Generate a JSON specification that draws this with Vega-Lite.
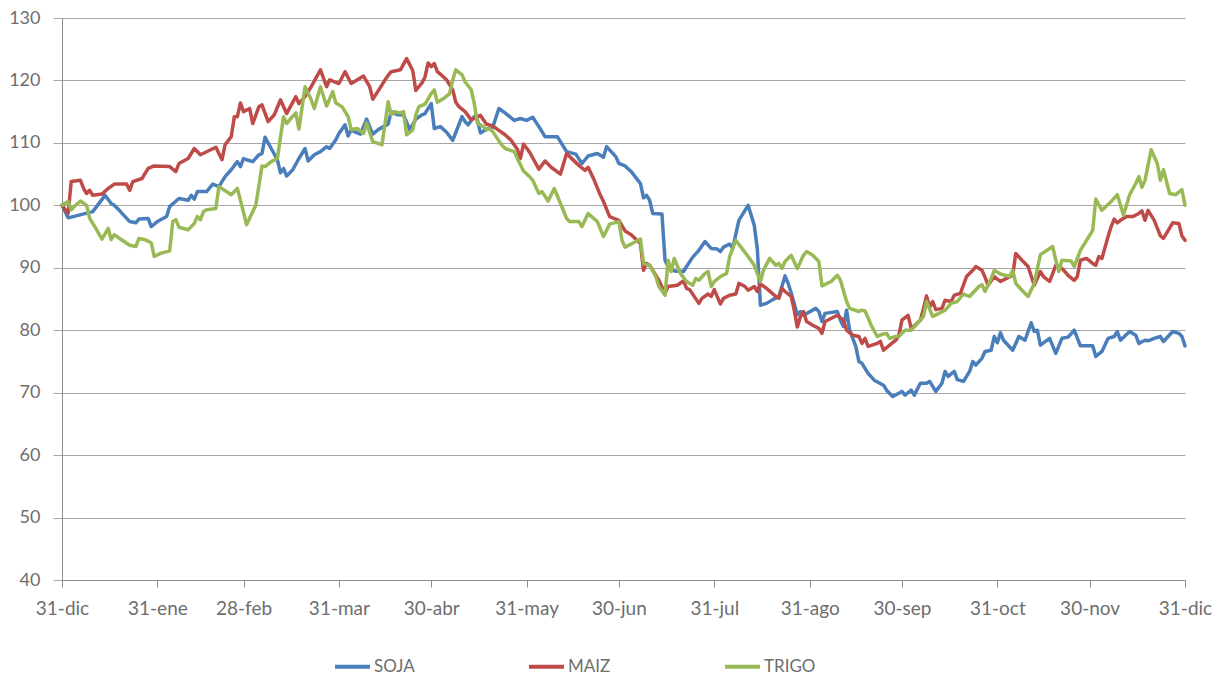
{
"$schema": "https://vega.github.io/schema/vega-lite/v6.json",
"width": 1123, "height": 562,
"autosize": {"type": "none"},
"padding": {"left": 62, "top": 18, "right": 30, "bottom": 95},
"background": "white",
"config": {"view": {"stroke": null}, "font": "Lato"},
"data": {"values": [
{"fecha":"2013-12-31","serie":"SOJA","valor":100},
{"fecha":"2014-01-02","serie":"SOJA","valor":98.0},
{"fecha":"2014-01-10","serie":"SOJA","valor":99.0},
{"fecha":"2014-01-14","serie":"SOJA","valor":101.6},
{"fecha":"2014-01-16","serie":"SOJA","valor":100.3},
{"fecha":"2014-01-17","serie":"SOJA","valor":100.0},
{"fecha":"2014-01-19","serie":"SOJA","valor":99.0},
{"fecha":"2014-01-22","serie":"SOJA","valor":97.4},
{"fecha":"2014-01-24","serie":"SOJA","valor":97.2},
{"fecha":"2014-01-25","serie":"SOJA","valor":97.8},
{"fecha":"2014-01-28","serie":"SOJA","valor":97.9},
{"fecha":"2014-01-29","serie":"SOJA","valor":96.6},
{"fecha":"2014-01-31","serie":"SOJA","valor":97.4},
{"fecha":"2014-02-03","serie":"SOJA","valor":98.2},
{"fecha":"2014-02-04","serie":"SOJA","valor":99.8},
{"fecha":"2014-02-07","serie":"SOJA","valor":101.1},
{"fecha":"2014-02-10","serie":"SOJA","valor":100.8},
{"fecha":"2014-02-11","serie":"SOJA","valor":101.6},
{"fecha":"2014-02-12","serie":"SOJA","valor":101.0},
{"fecha":"2014-02-13","serie":"SOJA","valor":102.2},
{"fecha":"2014-02-16","serie":"SOJA","valor":102.2},
{"fecha":"2014-02-18","serie":"SOJA","valor":103.4},
{"fecha":"2014-02-20","serie":"SOJA","valor":103.0},
{"fecha":"2014-02-22","serie":"SOJA","valor":104.6},
{"fecha":"2014-02-24","serie":"SOJA","valor":105.7},
{"fecha":"2014-02-26","serie":"SOJA","valor":107.0},
{"fecha":"2014-02-27","serie":"SOJA","valor":106.2},
{"fecha":"2014-02-28","serie":"SOJA","valor":107.5},
{"fecha":"2014-03-01","serie":"SOJA","valor":107.3},
{"fecha":"2014-03-03","serie":"SOJA","valor":107.0},
{"fecha":"2014-03-05","serie":"SOJA","valor":108.1},
{"fecha":"2014-03-06","serie":"SOJA","valor":108.3},
{"fecha":"2014-03-07","serie":"SOJA","valor":110.9},
{"fecha":"2014-03-09","serie":"SOJA","valor":109.1},
{"fecha":"2014-03-11","serie":"SOJA","valor":107.3},
{"fecha":"2014-03-12","serie":"SOJA","valor":105.2},
{"fecha":"2014-03-13","serie":"SOJA","valor":105.9},
{"fecha":"2014-03-14","serie":"SOJA","valor":104.7},
{"fecha":"2014-03-16","serie":"SOJA","valor":105.7},
{"fecha":"2014-03-18","serie":"SOJA","valor":107.5},
{"fecha":"2014-03-20","serie":"SOJA","valor":109.1},
{"fecha":"2014-03-21","serie":"SOJA","valor":107.1},
{"fecha":"2014-03-23","serie":"SOJA","valor":108.1},
{"fecha":"2014-03-25","serie":"SOJA","valor":108.6},
{"fecha":"2014-03-27","serie":"SOJA","valor":109.4},
{"fecha":"2014-03-28","serie":"SOJA","valor":109.1},
{"fecha":"2014-03-30","serie":"SOJA","valor":110.5},
{"fecha":"2014-03-31","serie":"SOJA","valor":111.5},
{"fecha":"2014-04-02","serie":"SOJA","valor":112.9},
{"fecha":"2014-04-03","serie":"SOJA","valor":111.1},
{"fecha":"2014-04-04","serie":"SOJA","valor":112.1},
{"fecha":"2014-04-05","serie":"SOJA","valor":111.8},
{"fecha":"2014-04-07","serie":"SOJA","valor":111.4},
{"fecha":"2014-04-09","serie":"SOJA","valor":113.8},
{"fecha":"2014-04-11","serie":"SOJA","valor":111.4},
{"fecha":"2014-04-13","serie":"SOJA","valor":112.2},
{"fecha":"2014-04-16","serie":"SOJA","valor":113.0},
{"fecha":"2014-04-17","serie":"SOJA","valor":115.0},
{"fecha":"2014-04-19","serie":"SOJA","valor":114.5},
{"fecha":"2014-04-21","serie":"SOJA","valor":114.5},
{"fecha":"2014-04-23","serie":"SOJA","valor":112.1},
{"fecha":"2014-04-25","serie":"SOJA","valor":113.8},
{"fecha":"2014-04-27","serie":"SOJA","valor":114.5},
{"fecha":"2014-04-28","serie":"SOJA","valor":114.7},
{"fecha":"2014-04-30","serie":"SOJA","valor":116.3},
{"fecha":"2014-05-01","serie":"SOJA","valor":112.3},
{"fecha":"2014-05-03","serie":"SOJA","valor":112.6},
{"fecha":"2014-05-05","serie":"SOJA","valor":111.7},
{"fecha":"2014-05-07","serie":"SOJA","valor":110.4},
{"fecha":"2014-05-10","serie":"SOJA","valor":114.2},
{"fecha":"2014-05-11","serie":"SOJA","valor":113.4},
{"fecha":"2014-05-12","serie":"SOJA","valor":112.9},
{"fecha":"2014-05-14","serie":"SOJA","valor":114.2},
{"fecha":"2014-05-15","serie":"SOJA","valor":113.7},
{"fecha":"2014-05-16","serie":"SOJA","valor":111.6},
{"fecha":"2014-05-18","serie":"SOJA","valor":112.2},
{"fecha":"2014-05-20","serie":"SOJA","valor":112.5},
{"fecha":"2014-05-22","serie":"SOJA","valor":115.5},
{"fecha":"2014-05-24","serie":"SOJA","valor":114.8},
{"fecha":"2014-05-27","serie":"SOJA","valor":113.6},
{"fecha":"2014-05-29","serie":"SOJA","valor":113.9},
{"fecha":"2014-05-31","serie":"SOJA","valor":113.6},
{"fecha":"2014-06-02","serie":"SOJA","valor":114.1},
{"fecha":"2014-06-04","serie":"SOJA","valor":112.6},
{"fecha":"2014-06-06","serie":"SOJA","valor":111.0},
{"fecha":"2014-06-10","serie":"SOJA","valor":111.0},
{"fecha":"2014-06-13","serie":"SOJA","valor":108.6},
{"fecha":"2014-06-16","serie":"SOJA","valor":108.2},
{"fecha":"2014-06-18","serie":"SOJA","valor":106.7},
{"fecha":"2014-06-20","serie":"SOJA","valor":107.9},
{"fecha":"2014-06-23","serie":"SOJA","valor":108.3},
{"fecha":"2014-06-25","serie":"SOJA","valor":107.7},
{"fecha":"2014-06-26","serie":"SOJA","valor":109.4},
{"fecha":"2014-06-29","serie":"SOJA","valor":107.8},
{"fecha":"2014-06-30","serie":"SOJA","valor":106.7},
{"fecha":"2014-07-02","serie":"SOJA","valor":106.3},
{"fecha":"2014-07-04","serie":"SOJA","valor":105.4},
{"fecha":"2014-07-07","serie":"SOJA","valor":103.5},
{"fecha":"2014-07-08","serie":"SOJA","valor":101.2},
{"fecha":"2014-07-09","serie":"SOJA","valor":101.6},
{"fecha":"2014-07-10","serie":"SOJA","valor":100.8},
{"fecha":"2014-07-11","serie":"SOJA","valor":98.7},
{"fecha":"2014-07-14","serie":"SOJA","valor":98.6},
{"fecha":"2014-07-15","serie":"SOJA","valor":91.2},
{"fecha":"2014-07-16","serie":"SOJA","valor":90.2},
{"fecha":"2014-07-18","serie":"SOJA","valor":89.5},
{"fecha":"2014-07-21","serie":"SOJA","valor":89.4},
{"fecha":"2014-07-22","serie":"SOJA","valor":90.2},
{"fecha":"2014-07-24","serie":"SOJA","valor":91.7},
{"fecha":"2014-07-26","serie":"SOJA","valor":92.8},
{"fecha":"2014-07-28","serie":"SOJA","valor":94.2},
{"fecha":"2014-07-30","serie":"SOJA","valor":93.1},
{"fecha":"2014-08-01","serie":"SOJA","valor":93.0},
{"fecha":"2014-08-02","serie":"SOJA","valor":92.6},
{"fecha":"2014-08-03","serie":"SOJA","valor":93.3},
{"fecha":"2014-08-05","serie":"SOJA","valor":93.8},
{"fecha":"2014-08-06","serie":"SOJA","valor":93.1},
{"fecha":"2014-08-08","serie":"SOJA","valor":97.6},
{"fecha":"2014-08-09","serie":"SOJA","valor":98.4},
{"fecha":"2014-08-11","serie":"SOJA","valor":100.0},
{"fecha":"2014-08-13","serie":"SOJA","valor":96.8},
{"fecha":"2014-08-14","serie":"SOJA","valor":93.0},
{"fecha":"2014-08-15","serie":"SOJA","valor":84.0},
{"fecha":"2014-08-17","serie":"SOJA","valor":84.3},
{"fecha":"2014-08-19","serie":"SOJA","valor":84.9},
{"fecha":"2014-08-21","serie":"SOJA","valor":85.4},
{"fecha":"2014-08-23","serie":"SOJA","valor":88.7},
{"fecha":"2014-08-24","serie":"SOJA","valor":87.5},
{"fecha":"2014-08-25","serie":"SOJA","valor":86.0},
{"fecha":"2014-08-27","serie":"SOJA","valor":82.5},
{"fecha":"2014-08-28","serie":"SOJA","valor":83.0},
{"fecha":"2014-08-29","serie":"SOJA","valor":82.4},
{"fecha":"2014-09-02","serie":"SOJA","valor":83.5},
{"fecha":"2014-09-03","serie":"SOJA","valor":83.0},
{"fecha":"2014-09-04","serie":"SOJA","valor":81.4},
{"fecha":"2014-09-05","serie":"SOJA","valor":82.7},
{"fecha":"2014-09-09","serie":"SOJA","valor":83.0},
{"fecha":"2014-09-10","serie":"SOJA","valor":81.6},
{"fecha":"2014-09-11","serie":"SOJA","valor":80.6},
{"fecha":"2014-09-12","serie":"SOJA","valor":83.2},
{"fecha":"2014-09-13","serie":"SOJA","valor":80.0},
{"fecha":"2014-09-15","serie":"SOJA","valor":77.4},
{"fecha":"2014-09-16","serie":"SOJA","valor":75.0},
{"fecha":"2014-09-17","serie":"SOJA","valor":74.7},
{"fecha":"2014-09-19","serie":"SOJA","valor":73.1},
{"fecha":"2014-09-21","serie":"SOJA","valor":72.0},
{"fecha":"2014-09-24","serie":"SOJA","valor":71.2},
{"fecha":"2014-09-25","serie":"SOJA","valor":70.4},
{"fecha":"2014-09-27","serie":"SOJA","valor":69.4},
{"fecha":"2014-09-29","serie":"SOJA","valor":69.9},
{"fecha":"2014-09-30","serie":"SOJA","valor":70.2},
{"fecha":"2014-10-01","serie":"SOJA","valor":69.6},
{"fecha":"2014-10-03","serie":"SOJA","valor":70.4},
{"fecha":"2014-10-04","serie":"SOJA","valor":69.6},
{"fecha":"2014-10-06","serie":"SOJA","valor":71.5},
{"fecha":"2014-10-08","serie":"SOJA","valor":71.5},
{"fecha":"2014-10-09","serie":"SOJA","valor":71.8},
{"fecha":"2014-10-11","serie":"SOJA","valor":70.2},
{"fecha":"2014-10-13","serie":"SOJA","valor":71.5},
{"fecha":"2014-10-14","serie":"SOJA","valor":73.4},
{"fecha":"2014-10-15","serie":"SOJA","valor":72.6},
{"fecha":"2014-10-17","serie":"SOJA","valor":73.4},
{"fecha":"2014-10-18","serie":"SOJA","valor":72.1},
{"fecha":"2014-10-20","serie":"SOJA","valor":71.8},
{"fecha":"2014-10-22","serie":"SOJA","valor":73.4},
{"fecha":"2014-10-23","serie":"SOJA","valor":75.0},
{"fecha":"2014-10-24","serie":"SOJA","valor":74.4},
{"fecha":"2014-10-26","serie":"SOJA","valor":75.5},
{"fecha":"2014-10-27","serie":"SOJA","valor":76.6},
{"fecha":"2014-10-29","serie":"SOJA","valor":76.8},
{"fecha":"2014-10-30","serie":"SOJA","valor":79.0},
{"fecha":"2014-10-31","serie":"SOJA","valor":78.0},
{"fecha":"2014-11-01","serie":"SOJA","valor":79.6},
{"fecha":"2014-11-02","serie":"SOJA","valor":78.4},
{"fecha":"2014-11-05","serie":"SOJA","valor":76.8},
{"fecha":"2014-11-07","serie":"SOJA","valor":79.0},
{"fecha":"2014-11-09","serie":"SOJA","valor":78.4},
{"fecha":"2014-11-11","serie":"SOJA","valor":81.2},
{"fecha":"2014-11-12","serie":"SOJA","valor":79.8},
{"fecha":"2014-11-13","serie":"SOJA","valor":80.0},
{"fecha":"2014-11-14","serie":"SOJA","valor":77.6},
{"fecha":"2014-11-17","serie":"SOJA","valor":78.7},
{"fecha":"2014-11-19","serie":"SOJA","valor":76.3},
{"fecha":"2014-11-21","serie":"SOJA","valor":78.7},
{"fecha":"2014-11-23","serie":"SOJA","valor":78.9},
{"fecha":"2014-11-25","serie":"SOJA","valor":80.0},
{"fecha":"2014-11-27","serie":"SOJA","valor":77.5},
{"fecha":"2014-12-01","serie":"SOJA","valor":77.5},
{"fecha":"2014-12-02","serie":"SOJA","valor":75.8},
{"fecha":"2014-12-04","serie":"SOJA","valor":76.6},
{"fecha":"2014-12-06","serie":"SOJA","valor":78.7},
{"fecha":"2014-12-08","serie":"SOJA","valor":79.0},
{"fecha":"2014-12-09","serie":"SOJA","valor":79.8},
{"fecha":"2014-12-10","serie":"SOJA","valor":78.4},
{"fecha":"2014-12-13","serie":"SOJA","valor":79.8},
{"fecha":"2014-12-15","serie":"SOJA","valor":79.2},
{"fecha":"2014-12-16","serie":"SOJA","valor":77.9},
{"fecha":"2014-12-18","serie":"SOJA","valor":78.4},
{"fecha":"2014-12-19","serie":"SOJA","valor":78.3},
{"fecha":"2014-12-21","serie":"SOJA","valor":78.7},
{"fecha":"2014-12-23","serie":"SOJA","valor":79.0},
{"fecha":"2014-12-24","serie":"SOJA","valor":78.2},
{"fecha":"2014-12-27","serie":"SOJA","valor":79.8},
{"fecha":"2014-12-29","serie":"SOJA","valor":79.5},
{"fecha":"2014-12-30","serie":"SOJA","valor":79.0},
{"fecha":"2014-12-31","serie":"SOJA","valor":77.5},
{"fecha":"2013-12-31","serie":"MAIZ","valor":100},
{"fecha":"2014-01-02","serie":"MAIZ","valor":98.7},
{"fecha":"2014-01-03","serie":"MAIZ","valor":103.8},
{"fecha":"2014-01-06","serie":"MAIZ","valor":104.0},
{"fecha":"2014-01-07","serie":"MAIZ","valor":102.7},
{"fecha":"2014-01-08","serie":"MAIZ","valor":101.9},
{"fecha":"2014-01-09","serie":"MAIZ","valor":102.4},
{"fecha":"2014-01-10","serie":"MAIZ","valor":101.6},
{"fecha":"2014-01-13","serie":"MAIZ","valor":101.8},
{"fecha":"2014-01-15","serie":"MAIZ","valor":102.7},
{"fecha":"2014-01-17","serie":"MAIZ","valor":103.4},
{"fecha":"2014-01-21","serie":"MAIZ","valor":103.4},
{"fecha":"2014-01-22","serie":"MAIZ","valor":102.4},
{"fecha":"2014-01-23","serie":"MAIZ","valor":103.8},
{"fecha":"2014-01-26","serie":"MAIZ","valor":104.3},
{"fecha":"2014-01-28","serie":"MAIZ","valor":105.9},
{"fecha":"2014-01-30","serie":"MAIZ","valor":106.3},
{"fecha":"2014-02-04","serie":"MAIZ","valor":106.2},
{"fecha":"2014-02-06","serie":"MAIZ","valor":105.4},
{"fecha":"2014-02-07","serie":"MAIZ","valor":106.7},
{"fecha":"2014-02-10","serie":"MAIZ","valor":107.5},
{"fecha":"2014-02-12","serie":"MAIZ","valor":109.1},
{"fecha":"2014-02-14","serie":"MAIZ","valor":108.1},
{"fecha":"2014-02-19","serie":"MAIZ","valor":109.3},
{"fecha":"2014-02-20","serie":"MAIZ","valor":108.3},
{"fecha":"2014-02-21","serie":"MAIZ","valor":107.3},
{"fecha":"2014-02-22","serie":"MAIZ","valor":109.7},
{"fecha":"2014-02-24","serie":"MAIZ","valor":111.0},
{"fecha":"2014-02-25","serie":"MAIZ","valor":114.2},
{"fecha":"2014-02-26","serie":"MAIZ","valor":114.2},
{"fecha":"2014-02-27","serie":"MAIZ","valor":116.4},
{"fecha":"2014-02-28","serie":"MAIZ","valor":115.0},
{"fecha":"2014-03-02","serie":"MAIZ","valor":115.5},
{"fecha":"2014-03-03","serie":"MAIZ","valor":113.1},
{"fecha":"2014-03-05","serie":"MAIZ","valor":115.8},
{"fecha":"2014-03-06","serie":"MAIZ","valor":116.1},
{"fecha":"2014-03-08","serie":"MAIZ","valor":113.4},
{"fecha":"2014-03-10","serie":"MAIZ","valor":114.5},
{"fecha":"2014-03-12","serie":"MAIZ","valor":116.9},
{"fecha":"2014-03-14","serie":"MAIZ","valor":114.7},
{"fecha":"2014-03-17","serie":"MAIZ","valor":117.4},
{"fecha":"2014-03-18","serie":"MAIZ","valor":116.3},
{"fecha":"2014-03-20","serie":"MAIZ","valor":117.4},
{"fecha":"2014-03-22","serie":"MAIZ","valor":119.0},
{"fecha":"2014-03-25","serie":"MAIZ","valor":121.7},
{"fecha":"2014-03-27","serie":"MAIZ","valor":119.0},
{"fecha":"2014-03-28","serie":"MAIZ","valor":120.1},
{"fecha":"2014-03-31","serie":"MAIZ","valor":119.5},
{"fecha":"2014-04-02","serie":"MAIZ","valor":121.4},
{"fecha":"2014-04-04","serie":"MAIZ","valor":119.5},
{"fecha":"2014-04-06","serie":"MAIZ","valor":120.1},
{"fecha":"2014-04-08","serie":"MAIZ","valor":120.7},
{"fecha":"2014-04-10","serie":"MAIZ","valor":119.0},
{"fecha":"2014-04-11","serie":"MAIZ","valor":117.0},
{"fecha":"2014-04-13","serie":"MAIZ","valor":118.5},
{"fecha":"2014-04-15","serie":"MAIZ","valor":120.1},
{"fecha":"2014-04-16","serie":"MAIZ","valor":120.8},
{"fecha":"2014-04-17","serie":"MAIZ","valor":121.4},
{"fecha":"2014-04-20","serie":"MAIZ","valor":121.7},
{"fecha":"2014-04-22","serie":"MAIZ","valor":123.5},
{"fecha":"2014-04-24","serie":"MAIZ","valor":121.6},
{"fecha":"2014-04-25","serie":"MAIZ","valor":118.4},
{"fecha":"2014-04-27","serie":"MAIZ","valor":119.6},
{"fecha":"2014-04-28","serie":"MAIZ","valor":120.6},
{"fecha":"2014-04-29","serie":"MAIZ","valor":122.8},
{"fecha":"2014-04-30","serie":"MAIZ","valor":122.2},
{"fecha":"2014-05-01","serie":"MAIZ","valor":122.7},
{"fecha":"2014-05-02","serie":"MAIZ","valor":121.4},
{"fecha":"2014-05-03","serie":"MAIZ","valor":121.0},
{"fecha":"2014-05-05","serie":"MAIZ","valor":120.1},
{"fecha":"2014-05-07","serie":"MAIZ","valor":118.5},
{"fecha":"2014-05-08","serie":"MAIZ","valor":116.5},
{"fecha":"2014-05-09","serie":"MAIZ","valor":115.8},
{"fecha":"2014-05-11","serie":"MAIZ","valor":115.0},
{"fecha":"2014-05-13","serie":"MAIZ","valor":113.7},
{"fecha":"2014-05-16","serie":"MAIZ","valor":114.4},
{"fecha":"2014-05-18","serie":"MAIZ","valor":113.0},
{"fecha":"2014-05-20","serie":"MAIZ","valor":112.7},
{"fecha":"2014-05-22","serie":"MAIZ","valor":112.0},
{"fecha":"2014-05-24","serie":"MAIZ","valor":111.3},
{"fecha":"2014-05-26","serie":"MAIZ","valor":110.4},
{"fecha":"2014-05-28","serie":"MAIZ","valor":109.0},
{"fecha":"2014-05-29","serie":"MAIZ","valor":107.5},
{"fecha":"2014-05-30","serie":"MAIZ","valor":109.8},
{"fecha":"2014-06-01","serie":"MAIZ","valor":108.5},
{"fecha":"2014-06-04","serie":"MAIZ","valor":105.8},
{"fecha":"2014-06-06","serie":"MAIZ","valor":107.1},
{"fecha":"2014-06-08","serie":"MAIZ","valor":106.1},
{"fecha":"2014-06-11","serie":"MAIZ","valor":105.0},
{"fecha":"2014-06-13","serie":"MAIZ","valor":108.3},
{"fecha":"2014-06-14","serie":"MAIZ","valor":107.8},
{"fecha":"2014-06-17","serie":"MAIZ","valor":106.4},
{"fecha":"2014-06-19","serie":"MAIZ","valor":105.6},
{"fecha":"2014-06-20","serie":"MAIZ","valor":106.1},
{"fecha":"2014-06-22","serie":"MAIZ","valor":104.0},
{"fecha":"2014-06-24","serie":"MAIZ","valor":101.6},
{"fecha":"2014-06-25","serie":"MAIZ","valor":100.6},
{"fecha":"2014-06-27","serie":"MAIZ","valor":98.2},
{"fecha":"2014-06-30","serie":"MAIZ","valor":97.6},
{"fecha":"2014-07-02","serie":"MAIZ","valor":95.9},
{"fecha":"2014-07-04","serie":"MAIZ","valor":95.3},
{"fecha":"2014-07-07","serie":"MAIZ","valor":93.9},
{"fecha":"2014-07-08","serie":"MAIZ","valor":89.6},
{"fecha":"2014-07-09","serie":"MAIZ","valor":90.7},
{"fecha":"2014-07-10","serie":"MAIZ","valor":90.4},
{"fecha":"2014-07-13","serie":"MAIZ","valor":88.0},
{"fecha":"2014-07-15","serie":"MAIZ","valor":85.9},
{"fecha":"2014-07-16","serie":"MAIZ","valor":87.0},
{"fecha":"2014-07-19","serie":"MAIZ","valor":87.2},
{"fecha":"2014-07-21","serie":"MAIZ","valor":87.9},
{"fecha":"2014-07-22","serie":"MAIZ","valor":86.7},
{"fecha":"2014-07-23","serie":"MAIZ","valor":86.5},
{"fecha":"2014-07-26","serie":"MAIZ","valor":84.3},
{"fecha":"2014-07-27","serie":"MAIZ","valor":85.1},
{"fecha":"2014-07-29","serie":"MAIZ","valor":85.8},
{"fecha":"2014-07-30","serie":"MAIZ","valor":85.4},
{"fecha":"2014-07-31","serie":"MAIZ","valor":86.5},
{"fecha":"2014-08-02","serie":"MAIZ","valor":84.2},
{"fecha":"2014-08-03","serie":"MAIZ","valor":85.1},
{"fecha":"2014-08-05","serie":"MAIZ","valor":85.6},
{"fecha":"2014-08-07","serie":"MAIZ","valor":85.8},
{"fecha":"2014-08-08","serie":"MAIZ","valor":87.5},
{"fecha":"2014-08-10","serie":"MAIZ","valor":87.0},
{"fecha":"2014-08-11","serie":"MAIZ","valor":86.4},
{"fecha":"2014-08-13","serie":"MAIZ","valor":87.0},
{"fecha":"2014-08-14","serie":"MAIZ","valor":86.2},
{"fecha":"2014-08-15","serie":"MAIZ","valor":87.4},
{"fecha":"2014-08-17","serie":"MAIZ","valor":86.7},
{"fecha":"2014-08-20","serie":"MAIZ","valor":85.4},
{"fecha":"2014-08-21","serie":"MAIZ","valor":85.1},
{"fecha":"2014-08-22","serie":"MAIZ","valor":86.7},
{"fecha":"2014-08-23","serie":"MAIZ","valor":86.2},
{"fecha":"2014-08-25","serie":"MAIZ","valor":85.4},
{"fecha":"2014-08-26","serie":"MAIZ","valor":83.2},
{"fecha":"2014-08-27","serie":"MAIZ","valor":80.5},
{"fecha":"2014-08-28","serie":"MAIZ","valor":82.2},
{"fecha":"2014-08-29","serie":"MAIZ","valor":83.0},
{"fecha":"2014-08-30","serie":"MAIZ","valor":81.4},
{"fecha":"2014-09-01","serie":"MAIZ","valor":80.8},
{"fecha":"2014-09-03","serie":"MAIZ","valor":80.3},
{"fecha":"2014-09-04","serie":"MAIZ","valor":79.5},
{"fecha":"2014-09-05","serie":"MAIZ","valor":81.4},
{"fecha":"2014-09-09","serie":"MAIZ","valor":82.4},
{"fecha":"2014-09-11","serie":"MAIZ","valor":81.6},
{"fecha":"2014-09-12","serie":"MAIZ","valor":80.0},
{"fecha":"2014-09-14","serie":"MAIZ","valor":79.2},
{"fecha":"2014-09-16","serie":"MAIZ","valor":79.0},
{"fecha":"2014-09-17","serie":"MAIZ","valor":77.9},
{"fecha":"2014-09-18","serie":"MAIZ","valor":78.7},
{"fecha":"2014-09-19","serie":"MAIZ","valor":77.4},
{"fecha":"2014-09-22","serie":"MAIZ","valor":77.9},
{"fecha":"2014-09-23","serie":"MAIZ","valor":78.2},
{"fecha":"2014-09-24","serie":"MAIZ","valor":76.8},
{"fecha":"2014-09-26","serie":"MAIZ","valor":77.6},
{"fecha":"2014-09-28","serie":"MAIZ","valor":78.4},
{"fecha":"2014-09-29","serie":"MAIZ","valor":79.2},
{"fecha":"2014-09-30","serie":"MAIZ","valor":81.6},
{"fecha":"2014-10-02","serie":"MAIZ","valor":82.4},
{"fecha":"2014-10-03","serie":"MAIZ","valor":80.3},
{"fecha":"2014-10-04","serie":"MAIZ","valor":80.7},
{"fecha":"2014-10-06","serie":"MAIZ","valor":81.6},
{"fecha":"2014-10-07","serie":"MAIZ","valor":83.5},
{"fecha":"2014-10-08","serie":"MAIZ","valor":85.5},
{"fecha":"2014-10-09","serie":"MAIZ","valor":83.7},
{"fecha":"2014-10-10","serie":"MAIZ","valor":84.6},
{"fecha":"2014-10-11","serie":"MAIZ","valor":83.3},
{"fecha":"2014-10-13","serie":"MAIZ","valor":83.5},
{"fecha":"2014-10-14","serie":"MAIZ","valor":84.8},
{"fecha":"2014-10-16","serie":"MAIZ","valor":84.6},
{"fecha":"2014-10-17","serie":"MAIZ","valor":85.6},
{"fecha":"2014-10-19","serie":"MAIZ","valor":85.9},
{"fecha":"2014-10-21","serie":"MAIZ","valor":88.6},
{"fecha":"2014-10-23","serie":"MAIZ","valor":89.6},
{"fecha":"2014-10-24","serie":"MAIZ","valor":90.2},
{"fecha":"2014-10-26","serie":"MAIZ","valor":89.6},
{"fecha":"2014-10-27","serie":"MAIZ","valor":88.5},
{"fecha":"2014-10-28","serie":"MAIZ","valor":87.2},
{"fecha":"2014-10-30","serie":"MAIZ","valor":88.6},
{"fecha":"2014-11-01","serie":"MAIZ","valor":87.8},
{"fecha":"2014-11-03","serie":"MAIZ","valor":88.3},
{"fecha":"2014-11-05","serie":"MAIZ","valor":88.8},
{"fecha":"2014-11-06","serie":"MAIZ","valor":92.3},
{"fecha":"2014-11-08","serie":"MAIZ","valor":91.2},
{"fecha":"2014-11-10","serie":"MAIZ","valor":90.2},
{"fecha":"2014-11-12","serie":"MAIZ","valor":87.2},
{"fecha":"2014-11-14","serie":"MAIZ","valor":89.4},
{"fecha":"2014-11-15","serie":"MAIZ","valor":88.6},
{"fecha":"2014-11-17","serie":"MAIZ","valor":87.8},
{"fecha":"2014-11-19","serie":"MAIZ","valor":90.4},
{"fecha":"2014-11-21","serie":"MAIZ","valor":89.9},
{"fecha":"2014-11-23","serie":"MAIZ","valor":88.8},
{"fecha":"2014-11-25","serie":"MAIZ","valor":88.0},
{"fecha":"2014-11-26","serie":"MAIZ","valor":88.6},
{"fecha":"2014-11-27","serie":"MAIZ","valor":91.2},
{"fecha":"2014-11-29","serie":"MAIZ","valor":91.5},
{"fecha":"2014-12-01","serie":"MAIZ","valor":90.7},
{"fecha":"2014-12-02","serie":"MAIZ","valor":90.4},
{"fecha":"2014-12-03","serie":"MAIZ","valor":91.8},
{"fecha":"2014-12-04","serie":"MAIZ","valor":91.5},
{"fecha":"2014-12-06","serie":"MAIZ","valor":95.0},
{"fecha":"2014-12-07","serie":"MAIZ","valor":96.6},
{"fecha":"2014-12-08","serie":"MAIZ","valor":97.8},
{"fecha":"2014-12-09","serie":"MAIZ","valor":97.2},
{"fecha":"2014-12-10","serie":"MAIZ","valor":97.6},
{"fecha":"2014-12-12","serie":"MAIZ","valor":98.2},
{"fecha":"2014-12-14","serie":"MAIZ","valor":98.2},
{"fecha":"2014-12-16","serie":"MAIZ","valor":98.7},
{"fecha":"2014-12-17","serie":"MAIZ","valor":99.1},
{"fecha":"2014-12-18","serie":"MAIZ","valor":97.6},
{"fecha":"2014-12-19","serie":"MAIZ","valor":99.2},
{"fecha":"2014-12-21","serie":"MAIZ","valor":97.6},
{"fecha":"2014-12-23","serie":"MAIZ","valor":95.1},
{"fecha":"2014-12-24","serie":"MAIZ","valor":94.7},
{"fecha":"2014-12-27","serie":"MAIZ","valor":97.2},
{"fecha":"2014-12-29","serie":"MAIZ","valor":97.1},
{"fecha":"2014-12-30","serie":"MAIZ","valor":95.1},
{"fecha":"2014-12-31","serie":"MAIZ","valor":94.4},
{"fecha":"2013-12-31","serie":"TRIGO","valor":100},
{"fecha":"2014-01-02","serie":"TRIGO","valor":100.6},
{"fecha":"2014-01-03","serie":"TRIGO","valor":99.3},
{"fecha":"2014-01-04","serie":"TRIGO","valor":99.8},
{"fecha":"2014-01-06","serie":"TRIGO","valor":100.7},
{"fecha":"2014-01-08","serie":"TRIGO","valor":100.0},
{"fecha":"2014-01-09","serie":"TRIGO","valor":97.9},
{"fecha":"2014-01-11","serie":"TRIGO","valor":96.3},
{"fecha":"2014-01-13","serie":"TRIGO","valor":94.6},
{"fecha":"2014-01-15","serie":"TRIGO","valor":96.3},
{"fecha":"2014-01-16","serie":"TRIGO","valor":94.5},
{"fecha":"2014-01-17","serie":"TRIGO","valor":95.3},
{"fecha":"2014-01-19","serie":"TRIGO","valor":94.6},
{"fecha":"2014-01-22","serie":"TRIGO","valor":93.6},
{"fecha":"2014-01-24","serie":"TRIGO","valor":93.4},
{"fecha":"2014-01-25","serie":"TRIGO","valor":94.7},
{"fecha":"2014-01-27","serie":"TRIGO","valor":94.5},
{"fecha":"2014-01-29","serie":"TRIGO","valor":94.0},
{"fecha":"2014-01-30","serie":"TRIGO","valor":91.8},
{"fecha":"2014-02-01","serie":"TRIGO","valor":92.3},
{"fecha":"2014-02-04","serie":"TRIGO","valor":92.7},
{"fecha":"2014-02-05","serie":"TRIGO","valor":97.4},
{"fecha":"2014-02-06","serie":"TRIGO","valor":97.7},
{"fecha":"2014-02-07","serie":"TRIGO","valor":96.5},
{"fecha":"2014-02-10","serie":"TRIGO","valor":96.1},
{"fecha":"2014-02-12","serie":"TRIGO","valor":97.1},
{"fecha":"2014-02-13","serie":"TRIGO","valor":98.2},
{"fecha":"2014-02-14","serie":"TRIGO","valor":97.7},
{"fecha":"2014-02-15","serie":"TRIGO","valor":99.0},
{"fecha":"2014-02-16","serie":"TRIGO","valor":99.3},
{"fecha":"2014-02-19","serie":"TRIGO","valor":99.5},
{"fecha":"2014-02-20","serie":"TRIGO","valor":103.0},
{"fecha":"2014-02-24","serie":"TRIGO","valor":101.7},
{"fecha":"2014-02-26","serie":"TRIGO","valor":102.7},
{"fecha":"2014-02-27","serie":"TRIGO","valor":100.8},
{"fecha":"2014-03-01","serie":"TRIGO","valor":96.9},
{"fecha":"2014-03-03","serie":"TRIGO","valor":99.0},
{"fecha":"2014-03-04","serie":"TRIGO","valor":100.0},
{"fecha":"2014-03-06","serie":"TRIGO","valor":106.3},
{"fecha":"2014-03-07","serie":"TRIGO","valor":106.2},
{"fecha":"2014-03-09","serie":"TRIGO","valor":107.0},
{"fecha":"2014-03-11","serie":"TRIGO","valor":107.5},
{"fecha":"2014-03-13","serie":"TRIGO","valor":114.2},
{"fecha":"2014-03-14","serie":"TRIGO","valor":113.1},
{"fecha":"2014-03-15","serie":"TRIGO","valor":113.7},
{"fecha":"2014-03-17","serie":"TRIGO","valor":114.8},
{"fecha":"2014-03-18","serie":"TRIGO","valor":112.2},
{"fecha":"2014-03-20","serie":"TRIGO","valor":119.0},
{"fecha":"2014-03-22","serie":"TRIGO","valor":116.9},
{"fecha":"2014-03-23","serie":"TRIGO","valor":115.5},
{"fecha":"2014-03-25","serie":"TRIGO","valor":119.0},
{"fecha":"2014-03-27","serie":"TRIGO","valor":115.9},
{"fecha":"2014-03-29","serie":"TRIGO","valor":118.2},
{"fecha":"2014-03-30","serie":"TRIGO","valor":116.4},
{"fecha":"2014-04-01","serie":"TRIGO","valor":115.8},
{"fecha":"2014-04-03","serie":"TRIGO","valor":114.2},
{"fecha":"2014-04-04","serie":"TRIGO","valor":112.1},
{"fecha":"2014-04-06","serie":"TRIGO","valor":112.3},
{"fecha":"2014-04-08","serie":"TRIGO","valor":111.5},
{"fecha":"2014-04-09","serie":"TRIGO","valor":113.2},
{"fecha":"2014-04-11","serie":"TRIGO","valor":110.2},
{"fecha":"2014-04-14","serie":"TRIGO","valor":109.7},
{"fecha":"2014-04-16","serie":"TRIGO","valor":116.6},
{"fecha":"2014-04-17","serie":"TRIGO","valor":114.5},
{"fecha":"2014-04-18","serie":"TRIGO","valor":115.0},
{"fecha":"2014-04-20","serie":"TRIGO","valor":114.8},
{"fecha":"2014-04-21","serie":"TRIGO","valor":115.0},
{"fecha":"2014-04-22","serie":"TRIGO","valor":111.3},
{"fecha":"2014-04-24","serie":"TRIGO","valor":112.1},
{"fecha":"2014-04-25","serie":"TRIGO","valor":114.5},
{"fecha":"2014-04-26","serie":"TRIGO","valor":115.8},
{"fecha":"2014-04-28","serie":"TRIGO","valor":116.2},
{"fecha":"2014-04-30","serie":"TRIGO","valor":117.9},
{"fecha":"2014-05-01","serie":"TRIGO","valor":118.5},
{"fecha":"2014-05-02","serie":"TRIGO","valor":116.5},
{"fecha":"2014-05-04","serie":"TRIGO","valor":117.1},
{"fecha":"2014-05-06","serie":"TRIGO","valor":117.9},
{"fecha":"2014-05-07","serie":"TRIGO","valor":120.1},
{"fecha":"2014-05-08","serie":"TRIGO","valor":121.7},
{"fecha":"2014-05-10","serie":"TRIGO","valor":120.9},
{"fecha":"2014-05-11","serie":"TRIGO","valor":119.8},
{"fecha":"2014-05-13","serie":"TRIGO","valor":118.5},
{"fecha":"2014-05-14","serie":"TRIGO","valor":116.3},
{"fecha":"2014-05-15","serie":"TRIGO","valor":113.2},
{"fecha":"2014-05-17","serie":"TRIGO","valor":112.6},
{"fecha":"2014-05-18","serie":"TRIGO","valor":112.1},
{"fecha":"2014-05-19","serie":"TRIGO","valor":112.3},
{"fecha":"2014-05-20","serie":"TRIGO","valor":111.8},
{"fecha":"2014-05-23","serie":"TRIGO","valor":109.6},
{"fecha":"2014-05-24","serie":"TRIGO","valor":109.1},
{"fecha":"2014-05-27","serie":"TRIGO","valor":108.6},
{"fecha":"2014-05-28","serie":"TRIGO","valor":107.5},
{"fecha":"2014-05-30","serie":"TRIGO","valor":105.5},
{"fecha":"2014-06-01","serie":"TRIGO","valor":104.6},
{"fecha":"2014-06-02","serie":"TRIGO","valor":104.0},
{"fecha":"2014-06-04","serie":"TRIGO","valor":101.9},
{"fecha":"2014-06-05","serie":"TRIGO","valor":102.2},
{"fecha":"2014-06-07","serie":"TRIGO","valor":100.7},
{"fecha":"2014-06-09","serie":"TRIGO","valor":102.7},
{"fecha":"2014-06-11","serie":"TRIGO","valor":100.3},
{"fecha":"2014-06-13","serie":"TRIGO","valor":97.9},
{"fecha":"2014-06-14","serie":"TRIGO","valor":97.4},
{"fecha":"2014-06-17","serie":"TRIGO","valor":97.4},
{"fecha":"2014-06-18","serie":"TRIGO","valor":96.6},
{"fecha":"2014-06-20","serie":"TRIGO","valor":98.7},
{"fecha":"2014-06-23","serie":"TRIGO","valor":97.4},
{"fecha":"2014-06-25","serie":"TRIGO","valor":95.0},
{"fecha":"2014-06-27","serie":"TRIGO","valor":97.0},
{"fecha":"2014-06-30","serie":"TRIGO","valor":97.4},
{"fecha":"2014-07-01","serie":"TRIGO","valor":94.4},
{"fecha":"2014-07-02","serie":"TRIGO","valor":93.3},
{"fecha":"2014-07-04","serie":"TRIGO","valor":93.8},
{"fecha":"2014-07-07","serie":"TRIGO","valor":94.6},
{"fecha":"2014-07-08","serie":"TRIGO","valor":90.7},
{"fecha":"2014-07-10","serie":"TRIGO","valor":90.4},
{"fecha":"2014-07-12","serie":"TRIGO","valor":88.6},
{"fecha":"2014-07-13","serie":"TRIGO","valor":87.0},
{"fecha":"2014-07-15","serie":"TRIGO","valor":85.6},
{"fecha":"2014-07-16","serie":"TRIGO","valor":91.2},
{"fecha":"2014-07-17","serie":"TRIGO","valor":89.4},
{"fecha":"2014-07-18","serie":"TRIGO","valor":91.5},
{"fecha":"2014-07-20","serie":"TRIGO","valor":89.1},
{"fecha":"2014-07-22","serie":"TRIGO","valor":87.8},
{"fecha":"2014-07-24","serie":"TRIGO","valor":87.2},
{"fecha":"2014-07-25","serie":"TRIGO","valor":88.3},
{"fecha":"2014-07-26","serie":"TRIGO","valor":88.0},
{"fecha":"2014-07-28","serie":"TRIGO","valor":89.1},
{"fecha":"2014-07-29","serie":"TRIGO","valor":89.4},
{"fecha":"2014-07-30","serie":"TRIGO","valor":87.0},
{"fecha":"2014-07-31","serie":"TRIGO","valor":87.8},
{"fecha":"2014-08-02","serie":"TRIGO","valor":88.6},
{"fecha":"2014-08-04","serie":"TRIGO","valor":89.1},
{"fecha":"2014-08-05","serie":"TRIGO","valor":91.8},
{"fecha":"2014-08-07","serie":"TRIGO","valor":94.4},
{"fecha":"2014-08-09","serie":"TRIGO","valor":93.1},
{"fecha":"2014-08-11","serie":"TRIGO","valor":91.8},
{"fecha":"2014-08-13","serie":"TRIGO","valor":90.4},
{"fecha":"2014-08-15","serie":"TRIGO","valor":87.8},
{"fecha":"2014-08-16","serie":"TRIGO","valor":89.6},
{"fecha":"2014-08-18","serie":"TRIGO","valor":91.5},
{"fecha":"2014-08-20","serie":"TRIGO","valor":90.4},
{"fecha":"2014-08-21","serie":"TRIGO","valor":90.7},
{"fecha":"2014-08-22","serie":"TRIGO","valor":89.9},
{"fecha":"2014-08-23","serie":"TRIGO","valor":91.0},
{"fecha":"2014-08-25","serie":"TRIGO","valor":92.0},
{"fecha":"2014-08-27","serie":"TRIGO","valor":89.9},
{"fecha":"2014-08-29","serie":"TRIGO","valor":92.0},
{"fecha":"2014-08-30","serie":"TRIGO","valor":92.6},
{"fecha":"2014-09-01","serie":"TRIGO","valor":92.0},
{"fecha":"2014-09-03","serie":"TRIGO","valor":91.0},
{"fecha":"2014-09-04","serie":"TRIGO","valor":87.1},
{"fecha":"2014-09-07","serie":"TRIGO","valor":87.8},
{"fecha":"2014-09-09","serie":"TRIGO","valor":88.8},
{"fecha":"2014-09-10","serie":"TRIGO","valor":88.0},
{"fecha":"2014-09-12","serie":"TRIGO","valor":84.6},
{"fecha":"2014-09-13","serie":"TRIGO","valor":83.5},
{"fecha":"2014-09-16","serie":"TRIGO","valor":83.0},
{"fecha":"2014-09-17","serie":"TRIGO","valor":83.2},
{"fecha":"2014-09-18","serie":"TRIGO","valor":83.1},
{"fecha":"2014-09-20","serie":"TRIGO","valor":80.8},
{"fecha":"2014-09-22","serie":"TRIGO","valor":79.0},
{"fecha":"2014-09-24","serie":"TRIGO","valor":79.4},
{"fecha":"2014-09-25","serie":"TRIGO","valor":79.5},
{"fecha":"2014-09-26","serie":"TRIGO","valor":78.7},
{"fecha":"2014-09-28","serie":"TRIGO","valor":79.0},
{"fecha":"2014-09-29","serie":"TRIGO","valor":79.0},
{"fecha":"2014-09-30","serie":"TRIGO","valor":79.5},
{"fecha":"2014-10-01","serie":"TRIGO","valor":80.0},
{"fecha":"2014-10-03","serie":"TRIGO","valor":80.0},
{"fecha":"2014-10-05","serie":"TRIGO","valor":81.1},
{"fecha":"2014-10-07","serie":"TRIGO","valor":82.2},
{"fecha":"2014-10-08","serie":"TRIGO","valor":84.6},
{"fecha":"2014-10-10","serie":"TRIGO","valor":82.2},
{"fecha":"2014-10-12","serie":"TRIGO","valor":82.7},
{"fecha":"2014-10-14","serie":"TRIGO","valor":83.2},
{"fecha":"2014-10-16","serie":"TRIGO","valor":84.3},
{"fecha":"2014-10-18","serie":"TRIGO","valor":84.6},
{"fecha":"2014-10-20","serie":"TRIGO","valor":85.8},
{"fecha":"2014-10-22","serie":"TRIGO","valor":85.4},
{"fecha":"2014-10-25","serie":"TRIGO","valor":87.0},
{"fecha":"2014-10-26","serie":"TRIGO","valor":87.3},
{"fecha":"2014-10-27","serie":"TRIGO","valor":86.2},
{"fecha":"2014-10-29","serie":"TRIGO","valor":88.3},
{"fecha":"2014-10-30","serie":"TRIGO","valor":89.6},
{"fecha":"2014-11-01","serie":"TRIGO","valor":89.0},
{"fecha":"2014-11-04","serie":"TRIGO","valor":88.6},
{"fecha":"2014-11-05","serie":"TRIGO","valor":89.6},
{"fecha":"2014-11-06","serie":"TRIGO","valor":87.5},
{"fecha":"2014-11-08","serie":"TRIGO","valor":86.4},
{"fecha":"2014-11-10","serie":"TRIGO","valor":85.4},
{"fecha":"2014-11-12","serie":"TRIGO","valor":87.5},
{"fecha":"2014-11-14","serie":"TRIGO","valor":92.1},
{"fecha":"2014-11-18","serie":"TRIGO","valor":93.4},
{"fecha":"2014-11-19","serie":"TRIGO","valor":91.2},
{"fecha":"2014-11-20","serie":"TRIGO","valor":89.4},
{"fecha":"2014-11-21","serie":"TRIGO","valor":91.2},
{"fecha":"2014-11-24","serie":"TRIGO","valor":91.1},
{"fecha":"2014-11-25","serie":"TRIGO","valor":90.2},
{"fecha":"2014-11-27","serie":"TRIGO","valor":92.8},
{"fecha":"2014-11-29","serie":"TRIGO","valor":94.4},
{"fecha":"2014-12-01","serie":"TRIGO","valor":96.0},
{"fecha":"2014-12-02","serie":"TRIGO","valor":101.0},
{"fecha":"2014-12-04","serie":"TRIGO","valor":99.2},
{"fecha":"2014-12-07","serie":"TRIGO","valor":100.6},
{"fecha":"2014-12-09","serie":"TRIGO","valor":101.7},
{"fecha":"2014-12-11","serie":"TRIGO","valor":98.4},
{"fecha":"2014-12-13","serie":"TRIGO","valor":101.7},
{"fecha":"2014-12-15","serie":"TRIGO","valor":103.5},
{"fecha":"2014-12-16","serie":"TRIGO","valor":104.6},
{"fecha":"2014-12-17","serie":"TRIGO","valor":102.9},
{"fecha":"2014-12-18","serie":"TRIGO","valor":104.0},
{"fecha":"2014-12-20","serie":"TRIGO","valor":108.9},
{"fecha":"2014-12-22","serie":"TRIGO","valor":106.7},
{"fecha":"2014-12-23","serie":"TRIGO","valor":104.0},
{"fecha":"2014-12-24","serie":"TRIGO","valor":105.7},
{"fecha":"2014-12-26","serie":"TRIGO","valor":101.9},
{"fecha":"2014-12-28","serie":"TRIGO","valor":101.7},
{"fecha":"2014-12-30","serie":"TRIGO","valor":102.5},
{"fecha":"2014-12-31","serie":"TRIGO","valor":100.0}
]},
"mark": {"type": "line", "strokeWidth": 3.5, "strokeJoin": "round", "strokeCap": "round"},
"encoding": {
  "x": {"field": "fecha", "type": "temporal",
    "scale": {"type": "utc", "nice": false, "domain": [{"year": 2013, "month": 12, "date": 31, "utc": true}, {"year": 2014, "month": 12, "date": 31, "utc": true}]},
    "axis": {"title": null, "grid": false,
      "values": [
        {"year": 2013, "month": 12, "date": 31, "utc": true},
        {"year": 2014, "month": 1, "date": 31, "utc": true},
        {"year": 2014, "month": 2, "date": 28, "utc": true},
        {"year": 2014, "month": 3, "date": 31, "utc": true},
        {"year": 2014, "month": 4, "date": 30, "utc": true},
        {"year": 2014, "month": 5, "date": 31, "utc": true},
        {"year": 2014, "month": 6, "date": 30, "utc": true},
        {"year": 2014, "month": 7, "date": 31, "utc": true},
        {"year": 2014, "month": 8, "date": 31, "utc": true},
        {"year": 2014, "month": 9, "date": 30, "utc": true},
        {"year": 2014, "month": 10, "date": 31, "utc": true},
        {"year": 2014, "month": 11, "date": 30, "utc": true},
        {"year": 2014, "month": 12, "date": 31, "utc": true}],
      "labelExpr": "utcFormat(datum.value, '%d') + '-' + ['ene','feb','mar','abr','may','jun','jul','ago','sep','oct','nov','dic'][utcmonth(datum.value)]",
      "labelAngle": 0, "labelFlush": false, "labelOverlap": false, "labelBound": false,
      "labelFont": "Lato", "labelFontSize": 19, "labelColor": "#6e6e6e", "labelPadding": 12,
      "domainColor": "#8c8c8c", "domainWidth": 1, "tickColor": "#8c8c8c", "tickSize": 7}},
  "y": {"field": "valor", "type": "quantitative",
    "scale": {"domain": [40, 130], "nice": false, "zero": false},
    "axis": {"title": null, "values": [40, 50, 60, 70, 80, 90, 100, 110, 120, 130],
      "grid": true, "gridColor": "#a6a6a6", "gridWidth": 1,
      "labelFont": "Lato", "labelFontSize": 18, "labelColor": "#6e6e6e", "labelPadding": 13,
      "domainColor": "#8c8c8c", "tickColor": "#a6a6a6", "tickSize": 9}},
  "color": {"field": "serie", "type": "nominal",
    "scale": {"domain": ["SOJA", "MAIZ", "TRIGO"], "range": ["#4A7EBB", "#BE4B48", "#98B954"]},
    "legend": {"title": null, "orient": "none", "direction": "horizontal", "legendX": 271, "legendY": 629,
      "symbolType": "stroke", "symbolSize": 1225, "symbolStrokeWidth": 4,
      "labelFont": "Lato", "labelFontSize": 17, "labelColor": "#6e6e6e", "labelOffset": 2, "columnPadding": 106}}
}
}
